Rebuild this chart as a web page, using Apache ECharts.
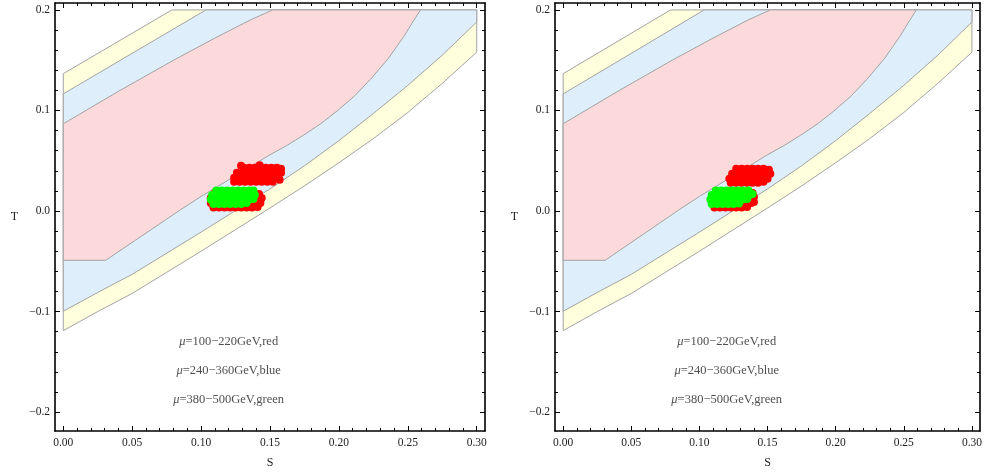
<!DOCTYPE html>
<html><head><meta charset="utf-8">
<script src="https://cdn.jsdelivr.net/npm/echarts@6/dist/echarts.min.js"></script>
<style>html,body{margin:0;padding:0;background:#fff}#c{width:985px;height:474px}</style>
</head><body><div id="c"></div>
<script>
// ---- data ----
const xMajor = [0, 0.05, 0.10, 0.15, 0.20, 0.25, 0.30];
const xMinor = [0.01,0.02,0.03,0.04,0.06,0.07,0.08,0.09,0.11,0.12,0.13,0.14,0.16,0.17,0.18,0.19,0.21,0.22,0.23,0.24,0.26,0.27,0.28,0.29];
const yMajor = [-0.2, -0.1, 0.0, 0.1, 0.2];
const yMinor = [-0.18,-0.16,-0.14,-0.12,-0.08,-0.06,-0.04,-0.02,0.02,0.04,0.06,0.08,0.12,0.14,0.16,0.18];

// confidence regions (S, T)
const region3 = [[0,-0.119],[0,0.1366],[0.0788,0.2],[0.3,0.2],[0.3,0.158],[0.275,0.127],[0.25,0.098],[0.225,0.072],[0.2,0.048],[0.175,0.025],[0.15,0.003],[0.125,-0.0185],[0.1,-0.04],[0.075,-0.061],[0.05,-0.082],[0.025,-0.1]];
const region2 = [[0,-0.0997],[0,0.1165],[0.1035,0.2],[0.3,0.2],[0.3,0.188],[0.275,0.155],[0.25,0.125],[0.225,0.097],[0.2,0.07],[0.175,0.045],[0.15,0.022],[0.125,0.0005],[0.1,-0.021],[0.075,-0.042],[0.05,-0.063],[0.025,-0.081]];
const region1 = [[0,-0.049],[0,0.0868],[0.04,0.119],[0.08,0.150],[0.11,0.172],[0.1357,0.19],[0.152,0.2],[0.2592,0.2],[0.2545,0.19],[0.2471,0.1736],[0.236,0.152],[0.2229,0.131],[0.211,0.114],[0.1987,0.0995],[0.187,0.087],[0.1744,0.0755],[0.162,0.065],[0.15,0.056],[0.135,0.0435],[0.12,0.031],[0.1,0.0145],[0.0848,0.001],[0.06,-0.022],[0.0308,-0.049]];

// scatter points, left panel
const redLeft = [
 [0.131,0.043],[0.135,0.043],[0.139,0.043],[0.143,0.043],[0.147,0.043],[0.151,0.043],[0.155,0.043],[0.158,0.042],
 [0.126,0.038],[0.130,0.038],[0.134,0.038],[0.138,0.038],[0.142,0.038],[0.146,0.038],[0.150,0.038],[0.154,0.038],[0.158,0.038],
 [0.124,0.033],[0.128,0.033],[0.132,0.033],[0.136,0.033],[0.140,0.033],[0.144,0.033],[0.148,0.033],[0.152,0.033],[0.156,0.033],
 [0.124,0.029],[0.128,0.029],[0.132,0.029],[0.136,0.029],[0.140,0.029],[0.144,0.029],[0.148,0.029],[0.152,0.029],
 [0.129,0.045],[0.1425,0.0455],[0.157,0.031],
 [0.109,0.0035],[0.113,0.0035],[0.117,0.0035],[0.121,0.0035],[0.125,0.0035],[0.129,0.0035],[0.133,0.0035],[0.137,0.0035],[0.141,0.004],
 [0.107,0.008],[0.111,0.008],[0.115,0.008],[0.119,0.008],[0.123,0.008],[0.127,0.008],[0.131,0.008],[0.135,0.008],[0.139,0.008],[0.143,0.008],
 [0.107,0.013],[0.111,0.013],[0.115,0.013],[0.119,0.013],[0.123,0.013],[0.127,0.013],[0.131,0.013],[0.135,0.013],[0.139,0.013],[0.144,0.013],
 [0.110,0.018],[0.114,0.018],[0.118,0.018],[0.122,0.018],[0.126,0.018],[0.130,0.018],[0.134,0.018],[0.138,0.018],[0.142,0.017]
];
const greenLeft = [
 [0.111,0.0205],[0.115,0.0205],[0.119,0.0205],[0.123,0.0205],[0.127,0.0205],[0.131,0.0205],[0.135,0.0205],[0.138,0.0205],
 [0.108,0.016],[0.112,0.016],[0.116,0.016],[0.120,0.016],[0.124,0.016],[0.128,0.016],[0.132,0.016],[0.136,0.016],[0.139,0.016],
 [0.107,0.0115],[0.111,0.0115],[0.115,0.0115],[0.119,0.0115],[0.123,0.0115],[0.127,0.0115],[0.131,0.0115],[0.135,0.0115],[0.138,0.012],
 [0.109,0.007],[0.113,0.007],[0.117,0.007],[0.121,0.007],[0.125,0.007],[0.129,0.007],[0.133,0.008]
];
// scatter points, right panel
const redRight = [
 [0.127,0.042],[0.131,0.042],[0.135,0.042],[0.139,0.042],[0.143,0.042],[0.147,0.042],[0.151,0.041],
 [0.124,0.037],[0.128,0.037],[0.132,0.037],[0.136,0.037],[0.140,0.037],[0.144,0.037],[0.148,0.037],[0.152,0.037],
 [0.122,0.032],[0.126,0.032],[0.130,0.032],[0.134,0.032],[0.138,0.032],[0.142,0.032],[0.146,0.032],[0.150,0.032],
 [0.123,0.028],[0.127,0.028],[0.131,0.028],[0.135,0.028],[0.139,0.028],[0.143,0.028],[0.147,0.029],
 [0.111,0.0035],[0.115,0.0035],[0.119,0.0035],[0.123,0.0035],[0.127,0.0035],[0.131,0.0035],[0.135,0.004],
 [0.110,0.008],[0.114,0.008],[0.118,0.008],[0.122,0.008],[0.126,0.008],[0.130,0.008],[0.134,0.008],[0.138,0.008],[0.140,0.009],
 [0.110,0.013],[0.114,0.013],[0.118,0.013],[0.122,0.013],[0.126,0.013],[0.130,0.013],[0.134,0.013],[0.138,0.013],[0.140,0.014],
 [0.113,0.018],[0.117,0.018],[0.121,0.018],[0.125,0.018],[0.129,0.018],[0.133,0.018],[0.137,0.018],[0.139,0.018]
];
const greenRight = [
 [0.112,0.0205],[0.116,0.0205],[0.120,0.0205],[0.124,0.0205],[0.128,0.0205],[0.132,0.0205],[0.136,0.0205],
 [0.109,0.016],[0.113,0.016],[0.117,0.016],[0.121,0.016],[0.125,0.016],[0.129,0.016],[0.133,0.016],[0.137,0.016],[0.139,0.017],
 [0.108,0.0115],[0.112,0.0115],[0.116,0.0115],[0.120,0.0115],[0.124,0.0115],[0.128,0.0115],[0.132,0.0115],[0.135,0.012],
 [0.109,0.007],[0.113,0.007],[0.117,0.007],[0.121,0.007],[0.125,0.007],[0.129,0.0075]
];

// annotations
const noteText = ['100\u2212220GeV,red', '240\u2212360GeV,blue', '380\u2212500GeV,green'];
const noteS = [0.12, 0.12, 0.12];
const noteT = [-0.130, -0.159, -0.188];

const X_MIN = -0.006, X_MAX = 0.306, Y_MIN = -0.2188, Y_MAX = 0.2069;

// ---- build ----
const SERIF = '"Liberation Serif","DejaVu Serif",serif';
const chart = echarts.init(document.getElementById('c'), null, {renderer: 'canvas'});
const grids = [
  {left: 55, top: 3, width: 430, height: 428},
  {left: 555, top: 3, width: 429, height: 428}
];
const xAxes = [], yAxes = [], series = [];
const line = {show: true, onZero: false, lineStyle: {color: '#000', width: 1.6}};
function fmtY(v){ const s = Math.abs(v).toFixed(1); return v < -1e-9 ? '\u2212' + s : s; }
for (let p = 0; p < 2; p++) {
  const common = {gridIndex: p, type: 'value', min: X_MIN, max: X_MAX, splitLine: {show: false}};
  xAxes.push(Object.assign({}, common, {position: 'bottom', axisLine: line,
    axisTick: {show: true, inside: true, length: 5, customValues: xMajor, lineStyle: {color: '#000', width: 1}},
    axisLabel: {show: true, customValues: xMajor, margin: 6, formatter: v => v.toFixed(2), fontFamily: SERIF, fontSize: 11.5, color: '#222'},
    name: 'S', nameLocation: 'middle', nameGap: 26, nameTextStyle: {fontFamily: SERIF, fontSize: 12, color: '#222'}}));
  xAxes.push(Object.assign({}, common, {position: 'bottom', axisLine: {show: false, onZero: false},
    axisTick: {show: true, inside: true, length: 3, customValues: xMinor, lineStyle: {color: '#000', width: 1}},
    axisLabel: {show: false}}));
  xAxes.push(Object.assign({}, common, {position: 'top', axisLine: line,
    axisTick: {show: true, inside: true, length: 5, customValues: xMajor, lineStyle: {color: '#000', width: 1}},
    axisLabel: {show: false}}));
  xAxes.push(Object.assign({}, common, {position: 'top', axisLine: {show: false, onZero: false},
    axisTick: {show: true, inside: true, length: 3, customValues: xMinor, lineStyle: {color: '#000', width: 1}},
    axisLabel: {show: false}}));
  const cy = {gridIndex: p, type: 'value', min: Y_MIN, max: Y_MAX, splitLine: {show: false}};
  yAxes.push(Object.assign({}, cy, {position: 'left', axisLine: line,
    axisTick: {show: true, inside: true, length: 5, customValues: yMajor, lineStyle: {color: '#000', width: 1}},
    axisLabel: {show: true, customValues: yMajor, margin: 5, formatter: fmtY, fontFamily: SERIF, fontSize: 11.5, color: '#222'},
    name: 'T', nameLocation: 'middle', nameRotate: 0, nameGap: 37, nameTextStyle: {fontFamily: SERIF, fontSize: 12, color: '#222'}}));
  yAxes.push(Object.assign({}, cy, {position: 'left', axisLine: {show: false, onZero: false},
    axisTick: {show: true, inside: true, length: 3, customValues: yMinor, lineStyle: {color: '#000', width: 1}},
    axisLabel: {show: false}}));
  yAxes.push(Object.assign({}, cy, {position: 'right', axisLine: line,
    axisTick: {show: true, inside: true, length: 5, customValues: yMajor, lineStyle: {color: '#000', width: 1}},
    axisLabel: {show: false}}));
  yAxes.push(Object.assign({}, cy, {position: 'right', axisLine: {show: false, onZero: false},
    axisTick: {show: true, inside: true, length: 3, customValues: yMinor, lineStyle: {color: '#000', width: 1}},
    axisLabel: {show: false}}));

  const xi = p * 4, yi = p * 4;
  const regions = [[region3, '#FFFFDD'], [region2, '#DEEEFB'], [region1, '#FCDADC']];
  regions.forEach(([pts, fill], k) => {
    series.push({type: 'custom', xAxisIndex: xi, yAxisIndex: yi, data: pts, silent: true, animation: false, z: 1 + k,
      renderItem: (params, api) => {
        if (params.dataIndex !== 0) return null;
        return {type: 'polygon', shape: {points: pts.map(q => api.coord(q))},
          style: {fill: fill, stroke: '#a3a3a3', lineWidth: 1}};
      }});
  });
  const red = p === 0 ? redLeft : redRight;
  const green = p === 0 ? greenLeft : greenRight;
  series.push({type: 'scatter', xAxisIndex: xi, yAxisIndex: yi, data: red, symbol: 'circle', symbolSize: 8,
    itemStyle: {color: '#FF0000', opacity: 1, borderWidth: 0}, silent: true, animation: false, z: 10});
  series.push({type: 'scatter', xAxisIndex: xi, yAxisIndex: yi, data: green, symbol: 'circle', symbolSize: 8,
    itemStyle: {color: '#00FF00', opacity: 1, borderWidth: 0}, silent: true, animation: false, z: 11});
  series.push({type: 'scatter', xAxisIndex: xi, yAxisIndex: yi, symbolSize: 0, silent: true, animation: false, z: 12,
    data: noteText.map((t, i) => ({value: [noteS[i], noteT[i]], name: t})),
    label: {show: true, position: 'inside', formatter: pr => '{i|\u03bc}{r|=' + pr.name + '}',
      rich: {i: {fontFamily: SERIF, fontStyle: 'italic', fontSize: 12.5, color: '#222'},
             r: {fontFamily: SERIF, fontSize: 12.5, color: '#222'}}}});
}
chart.setOption({backgroundColor: '#fff', animation: false, grid: grids, xAxis: xAxes, yAxis: yAxes, series: series});
</script></body></html>
